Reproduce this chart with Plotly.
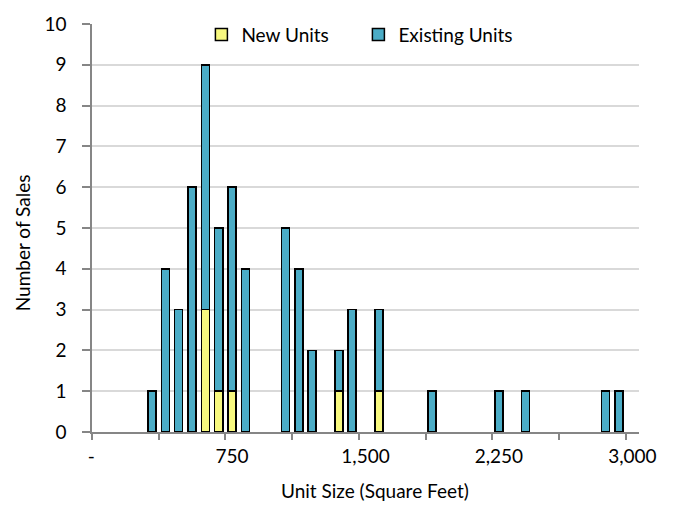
import plotly.graph_objects as go

# Data
existing_bins = [300, 375, 450, 525, 600, 675, 750, 825, 1050, 1125, 1200, 1350, 1425, 1575, 1875, 2250, 2400, 2850, 2925]
existing_counts = [1, 4, 3, 6, 6, 4, 5, 4, 5, 4, 2, 1, 3, 2, 1, 1, 1, 1, 1]
new_bins = [600, 675, 750, 1350, 1575]
new_counts = [3, 1, 1, 1, 1]
x_tickvals = [0, 750, 1500, 2250, 3000]
x_ticktext = ["-\u00a0\u00a0\u00a0", "750", "1,500", "2,250", "3,000"]
bin_width = 75

FONT = "Lato"
fig = go.Figure()
fig.add_trace(go.Bar(x=new_bins, y=new_counts, name="New Units",
                     marker=dict(color="#F7F87F", line=dict(color="black", width=1.5))))
fig.add_trace(go.Bar(x=existing_bins, y=existing_counts, name="Existing Units",
                     marker=dict(color="#4BACC6", line=dict(color="black", width=1.5))))

fig.update_layout(
    width=682, height=518,
    barmode="stack", bargap=0.4,
    plot_bgcolor="white", paper_bgcolor="white",
    margin=dict(l=92, r=43, t=17, b=86),
    font=dict(family=FONT, size=19, color="black"),
    showlegend=True,
    legend=dict(orientation="h", x=0.2, y=0.974, xanchor="left", yanchor="middle",
                bgcolor="rgba(0,0,0,0)", font=dict(size=19), itemwidth=30,
                entrywidth=112, entrywidthmode="pixels",
                traceorder="normal"),
    xaxis=dict(range=[-bin_width / 2, 3000 + bin_width / 2], tickmode="array",
               tickvals=x_tickvals, ticktext=x_ticktext, ticks="",
               showline=True, linecolor="#868686", linewidth=1.5,
               showgrid=False, zeroline=False, ticklabelstandoff=6,
               minor=dict(tickmode="linear", tick0=-bin_width / 2, dtick=375,
                          ticks="outside", ticklen=6, tickcolor="#868686", tickwidth=1.5,
                          showgrid=False),
               tickfont=dict(size=19)),
    yaxis=dict(range=[0, 10], dtick=1, tick0=0, showgrid=True, gridcolor="#D9D9D9", gridwidth=1.5,
               showline=True, linecolor="#868686", linewidth=1.5,
               ticks="outside", ticklen=8, tickcolor="#868686", tickwidth=1.5,
               zeroline=False, ticklabelstandoff=12,
               tickfont=dict(size=19)),
    annotations=[
        dict(text="Unit Size (Square Feet)", xref="paper", yref="paper",
             x=(375 - 92) / 547, y=-(492 - 432) / 415, xanchor="center", yanchor="middle",
             showarrow=False, font=dict(size=19)),
        dict(text="Number of Sales", xref="paper", yref="paper", textangle=-90,
             x=(22 - 92) / 547, y=(432 - 240) / 415, xanchor="center", yanchor="middle",
             showarrow=False, font=dict(size=19)),
    ],
)

fig.write_html("out.html")
